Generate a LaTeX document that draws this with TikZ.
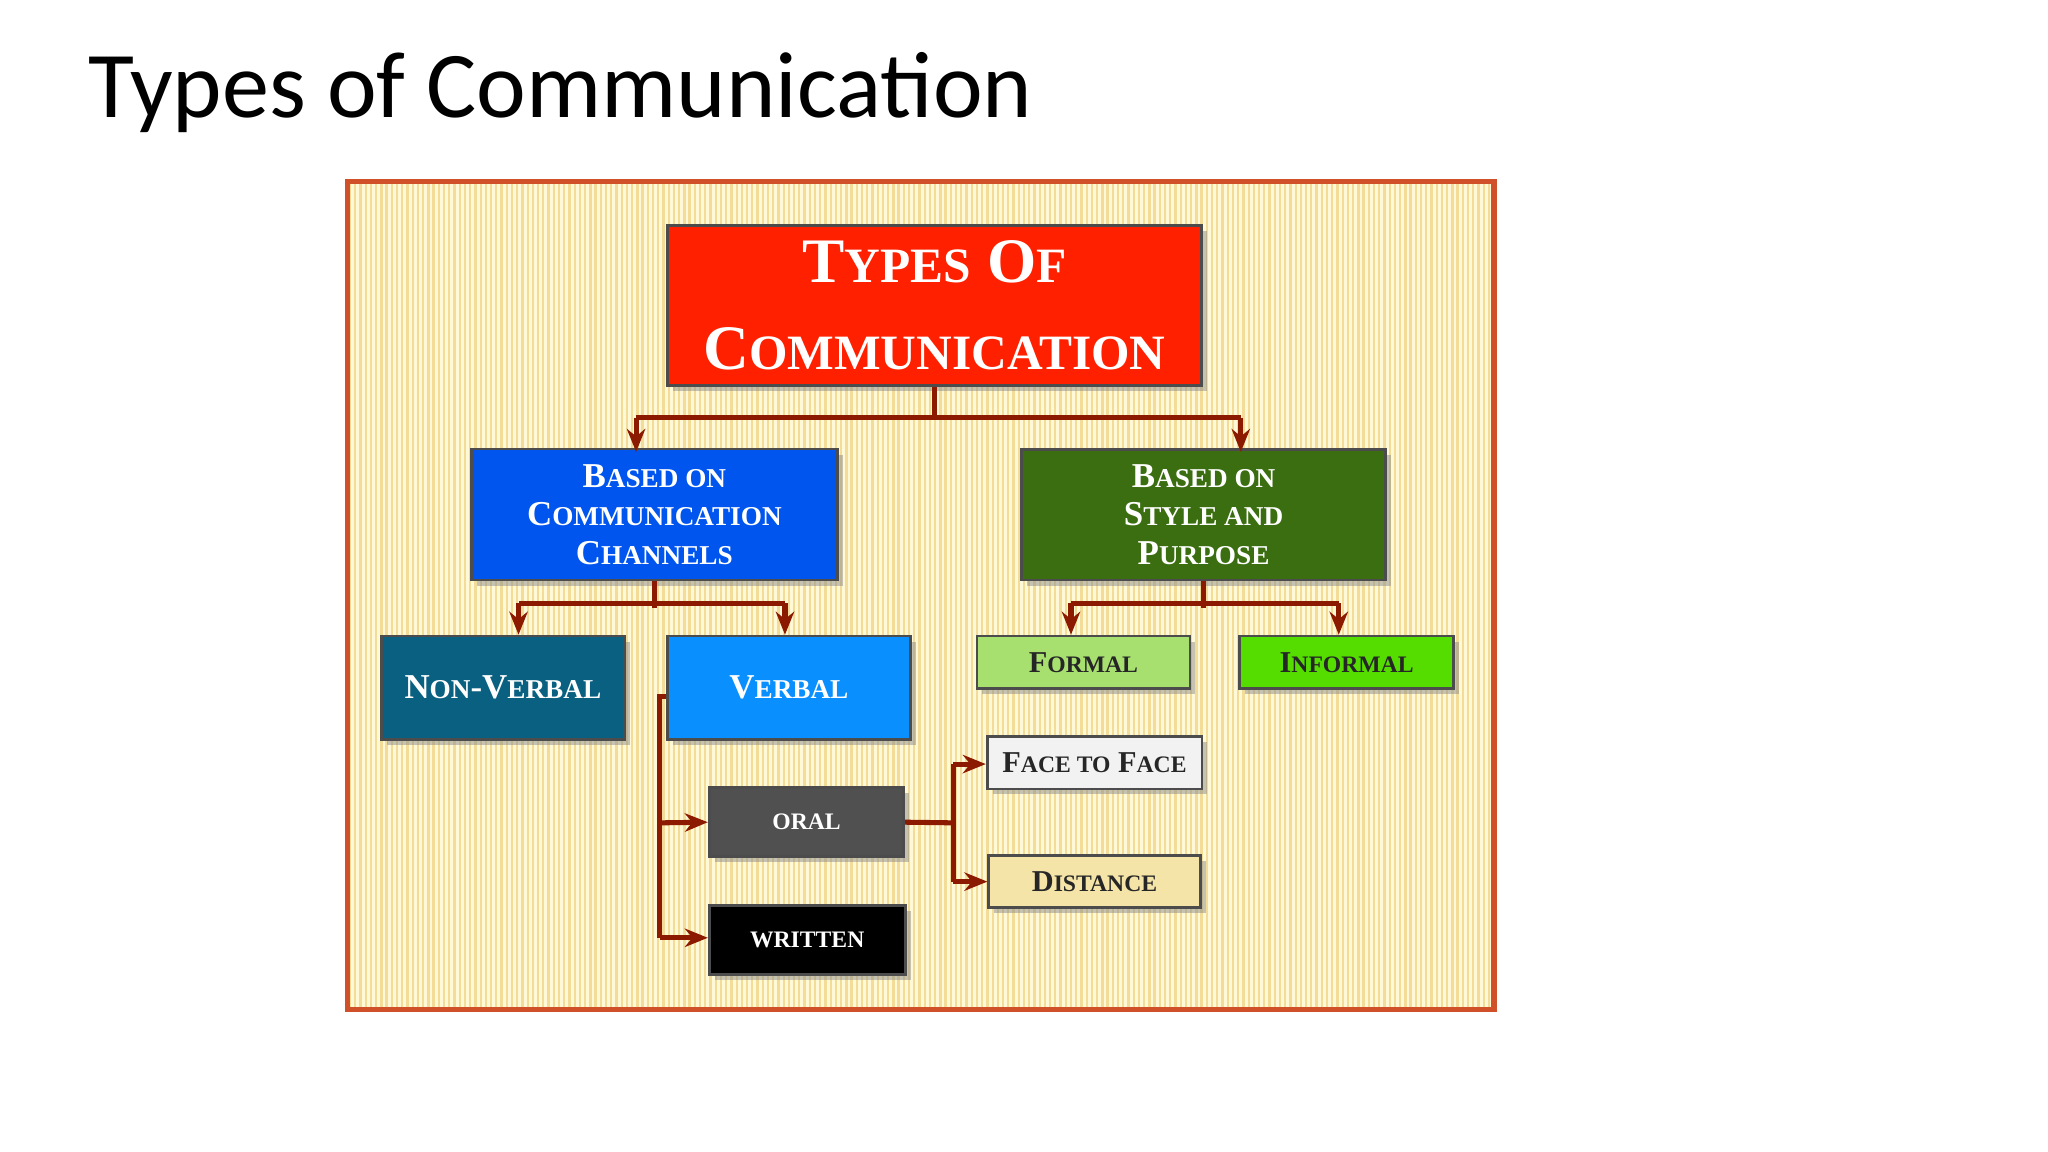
\documentclass[tikz,border=0pt]{standalone}
\usepackage{fontspec}
\setmainfont{Liberation Serif}
\newfontfamily\titlefont{Carlito}
\usetikzlibrary{shadows,arrows.meta}
\definecolor{frameC}{HTML}{D0502A}
\definecolor{bgC}{HTML}{FFF9D8}
\definecolor{stripeC}{HTML}{F2DC98}
\definecolor{lineC}{HTML}{8B1A00}
\newcommand\smc[2]{#1{\fontsize{\dimexpr 0.78\dimexpr\fontdimen6\font\relax}{0pt}\selectfont #2}}
\tikzset{
 bx/.style={draw=black!70, line width=0.6pt, drop shadow={shadow xshift=1.2pt,shadow yshift=-1.2pt,fill=black!45}, align=center, text=white, font=\bfseries},
 conn/.style={draw=lineC, line width=1.1pt},
 arr/.style={conn, -{Stealth[length=5pt,width=4pt]}},
}
\begin{document}
\begin{tikzpicture}[x=0.01cm,y=-0.01cm]
\useasboundingbox (0,0) rectangle (1568,882);
\fill[white] (0,0) rectangle (1568,882);
\node[anchor=base west, inner sep=0, font=\titlefont\fontsize{20.5}{24}\selectfont] (title) at (67,90) {Types of Communication};
% frame
\fill[bgC] (266,139) rectangle (1144,773);
\foreach \i in {0,...,218} {\draw[stripeC, line width=0.5pt] ({268+4*\i},141) -- ({268+4*\i},771);}
\draw[frameC, line width=1.2pt] (266,139) rectangle (1144,773);
% nodes
\node[bx, fill={rgb,255:red,255;green,32;blue,0}, minimum width=409*0.01cm, minimum height=122*0.01cm, font=\bfseries\fontsize{13.8}{19}\selectfont] (top) at (715.5,234) {\smc{T}{YPES} \smc{O}{F}\\\smc{C}{OMMUNICATION}};
\node[bx, fill={rgb,255:red,0;green,85;blue,238}, minimum width=280*0.01cm, minimum height=96*0.01cm, font=\bfseries\fontsize{7.6}{8.4}\selectfont] (blue) at (501,394) {\smc{B}{ASED ON}\\\smc{C}{OMMUNICATION}\\\smc{C}{HANNELS}};
\node[bx, fill={rgb,255:red,58;green,110;blue,16}, minimum width=279*0.01cm, minimum height=96*0.01cm, font=\bfseries\fontsize{7.6}{8.4}\selectfont] (green) at (921.5,394) {\smc{B}{ASED ON}\\\smc{S}{TYLE AND}\\\smc{P}{URPOSE}};
\node[bx, fill={rgb,255:red,10;green,96;blue,128}, minimum width=186*0.01cm, minimum height=79*0.01cm, font=\bfseries\fontsize{7.6}{9}\selectfont] (nonverbal) at (385,526.5) {\smc{N}{ON}-\smc{V}{ERBAL}};
\node[bx, fill={rgb,255:red,10;green,143;blue,255}, minimum width=186*0.01cm, minimum height=79*0.01cm, font=\bfseries\fontsize{7.6}{9}\selectfont] (verbal) at (604,526.5) {\smc{V}{ERBAL}};
\node[bx, fill={rgb,255:red,168;green,224;blue,112}, text=black!85, minimum width=163*0.01cm, minimum height=40*0.01cm, font=\bfseries\fontsize{6.6}{8}\selectfont] (formal) at (829.5,507) {\smc{F}{ORMAL}};
\node[bx, fill={rgb,255:red,85;green,221;blue,0}, text=black!85, minimum width=164*0.01cm, minimum height=40*0.01cm, font=\bfseries\fontsize{6.6}{8}\selectfont] (informal) at (1031,507) {\smc{I}{NFORMAL}};
\node[bx, fill={rgb,255:red,80;green,80;blue,80}, minimum width=149*0.01cm, minimum height=53*0.01cm, font=\bfseries\fontsize{6.6}{8}\selectfont] (oral) at (617.5,629.5) {\smc{}{ORAL}};
\node[bx, fill=black, minimum width=150*0.01cm, minimum height=53*0.01cm, font=\bfseries\fontsize{6.6}{8}\selectfont] (written) at (618,719.5) {\smc{}{WRITTEN}};
\node[bx, fill={rgb,255:red,242;green,242;blue,242}, text=black!85, minimum width=162*0.01cm, minimum height=40*0.01cm, font=\bfseries\fontsize{6.6}{8}\selectfont] (face) at (838,584) {\smc{F}{ACE TO} \smc{F}{ACE}};
\node[bx, fill={rgb,255:red,245;green,228;blue,168}, text=black!85, minimum width=162*0.01cm, minimum height=40*0.01cm, font=\bfseries\fontsize{6.6}{8}\selectfont] (distance) at (838,675) {\smc{D}{ISTANCE}};
% connectors
\draw[conn] (top.south) -- ++(0,25);
\draw[conn] (487,320) -- (950,320);
\draw[arr] (487,320) -- (487,346);
\draw[arr] (950,320) -- (950,346);
\draw[conn] (blue.south) -- ++(0,20);
\draw[conn] (397,462) -- (601,462);
\draw[arr] (397,462) -- (nonverbal.north -| 397,0);
\draw[arr] (601,462) -- (verbal.north -| 601,0);
\draw[conn] (green.south) -- ++(0,20);
\draw[conn] (820,462) -- (1025,462);
\draw[arr] (820,462) -- (formal.north -| 820,0);
\draw[arr] (1025,462) -- (informal.north -| 1025,0);
\draw[conn] (verbal.west |- 0,533) -- (505,533) -- (505,718);
\draw[arr] (505,630) -- (oral.west);
\draw[arr] (505,718) -- (written.west |- 0,718);
\draw[conn] (oral.east) -- (730,630);
\draw[conn] (730,585) -- (730,675);
\draw[arr] (730,585) -- (face.west |- 0,585);
\draw[arr] (730,675) -- (distance.west |- 0,675);
\end{tikzpicture}
\end{document}
